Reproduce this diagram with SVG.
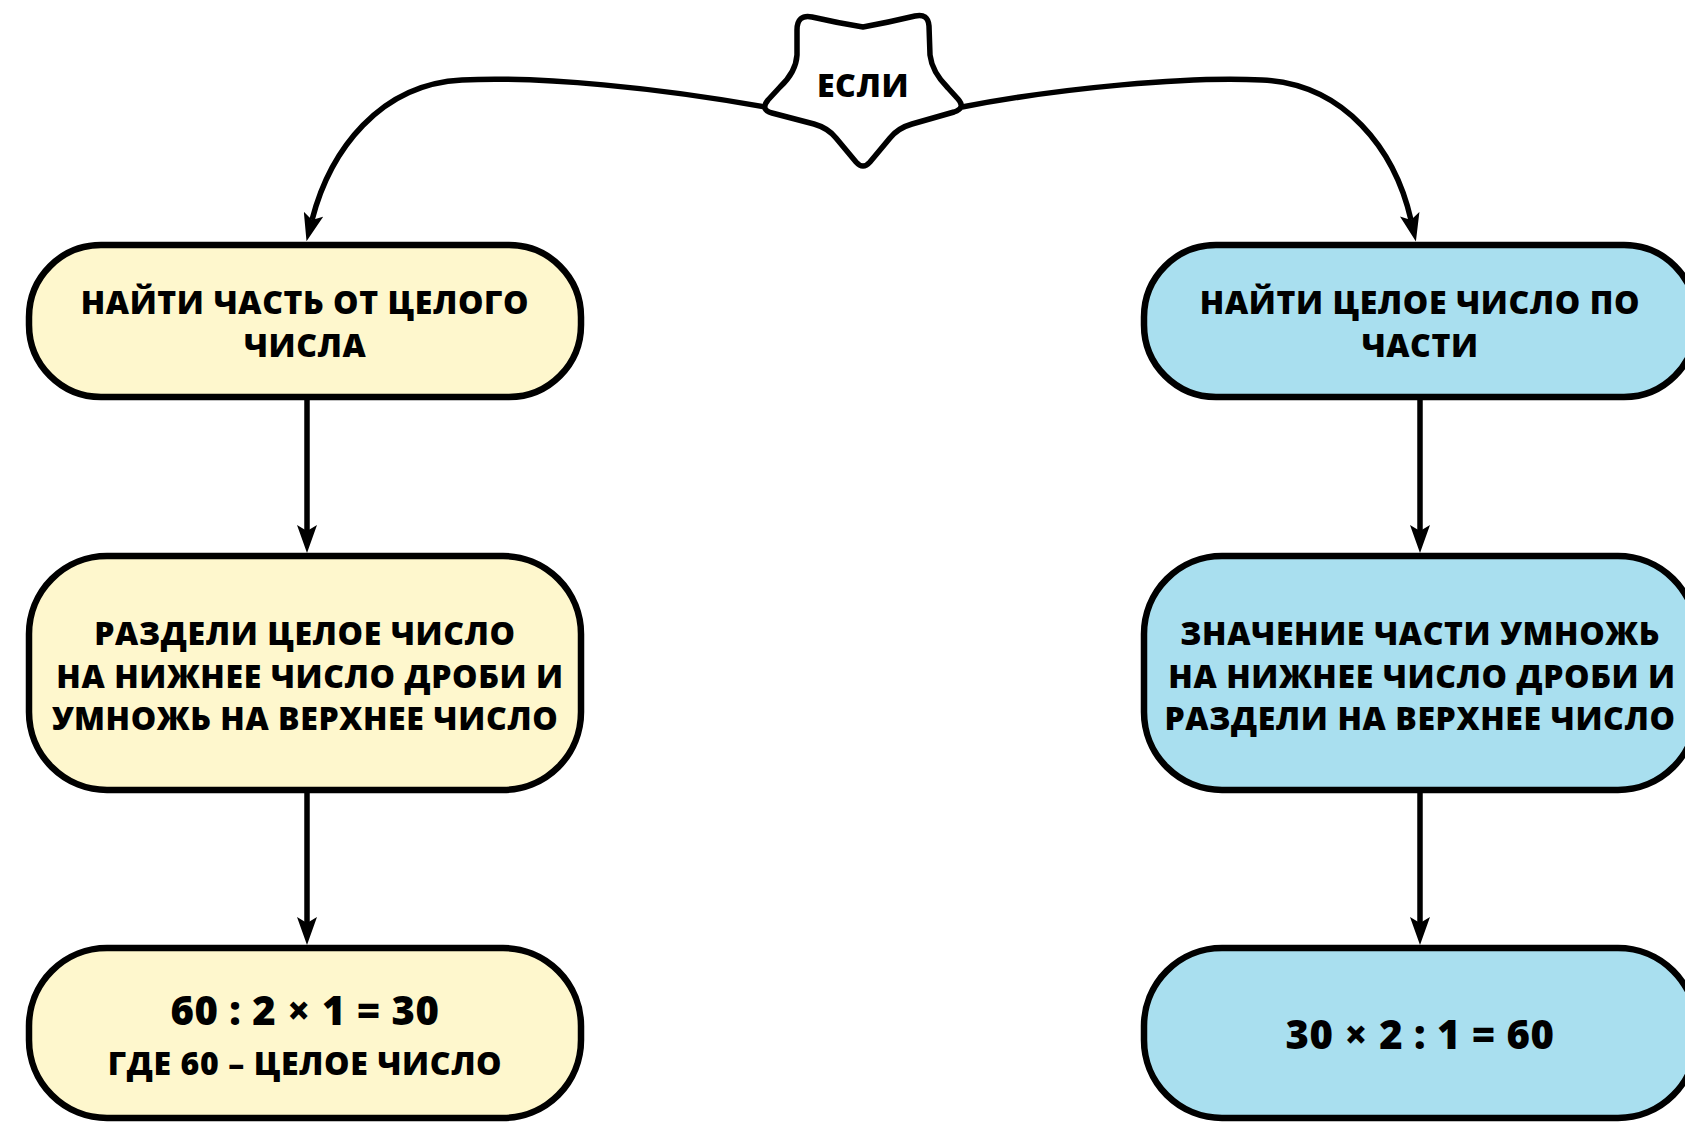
<svg xmlns="http://www.w3.org/2000/svg" width="1685" height="1122" viewBox="0 0 1685 1122">
<style>
.box{stroke:#000;stroke-width:6.5}
.y{fill:#FEF7CD}
.b{fill:#A9DFEF}
.t{font-family:"Open Sans","Noto Sans","DejaVu Sans",sans-serif;font-weight:800;font-size:32px;letter-spacing:0.6px;fill:#000;text-anchor:middle;font-variant-numeric:lining-nums}
.big{font-size:40px;letter-spacing:0.5px}
.conn{fill:none;stroke:#000;stroke-width:5.5}
</style>
<defs>
<marker id="arr" viewBox="0 0 28 20" refX="6" refY="10" markerWidth="28" markerHeight="20" markerUnits="userSpaceOnUse" orient="auto">
<path d="M0,0 L28,10 L0,20 L6,10 Z" fill="#000"/>
</marker>
</defs>
<rect width="1685" height="1122" fill="#fff"/>
<g id="connectors">
<path class="conn" d="M765 107 C660 88 540 76 462 80 C380 84 330 150 312 220" marker-end="url(#arr)"/>
<path class="conn" d="M962 107 C1060 88 1190 76 1262 80 C1345 84 1395 150 1411 220" marker-end="url(#arr)"/>
<path class="conn" d="M307 397 L307 531" marker-end="url(#arr)"/>
<path class="conn" d="M307 790 L307 923" marker-end="url(#arr)"/>
<path class="conn" d="M1420 397 L1420 531" marker-end="url(#arr)"/>
<path class="conn" d="M1420 790 L1420 923" marker-end="url(#arr)"/>
</g>
<g id="star">
<path d="M863 27 Q890 22 915 16 Q928 13 929 26 L930 55 Q932 72 948 88 L958 99 Q966 108 954 112 L912 124 Q898 128 890 138 L870 162 Q863 170 856 162 L836 138 Q828 128 814 124 L772 113 Q760 110 768 100 L780 87 Q796 72 797 55 L797 30 Q797 14 812 17 Q838 23 863 27 Z" fill="#fff" stroke="#000" stroke-width="5.5" stroke-linejoin="round"/>
<text class="t" x="863" y="97" font-size="29">ЕСЛИ</text>
</g>
<g id="left1">
<rect class="box y" x="29" y="245" width="552" height="152" rx="72"/>
<text class="t" x="305" y="314">НАЙТИ ЧАСТЬ ОТ ЦЕЛОГО</text>
<text class="t" x="305" y="357">ЧИСЛА</text>
</g>
<g id="left2">
<rect class="box y" x="29" y="556" width="552" height="234" rx="78"/>
<text class="t" x="305" y="645">РАЗДЕЛИ ЦЕЛОЕ ЧИСЛО</text>
<text class="t" x="310" y="688">НА НИЖНЕЕ ЧИСЛО ДРОБИ И</text>
<text class="t" x="305" y="730">УМНОЖЬ НА ВЕРХНЕЕ ЧИСЛО</text>
</g>
<g id="left3">
<rect class="box y" x="29" y="948" width="552" height="170" rx="78"/>
<text class="t big" x="305" y="1025">60 : 2 × 1 = 30</text>
<text class="t" x="305" y="1075" letter-spacing="1px">ГДЕ 60 – ЦЕЛОЕ ЧИСЛО</text>
</g>
<g id="right1">
<rect class="box b" x="1144" y="245" width="552" height="152" rx="72"/>
<text class="t" x="1420" y="314">НАЙТИ ЦЕЛОЕ ЧИСЛО ПО</text>
<text class="t" x="1420" y="357">ЧАСТИ</text>
</g>
<g id="right2">
<rect class="box b" x="1144" y="556" width="552" height="234" rx="78"/>
<text class="t" x="1420" y="645">ЗНАЧЕНИЕ ЧАСТИ УМНОЖЬ</text>
<text class="t" x="1422" y="688">НА НИЖНЕЕ ЧИСЛО ДРОБИ И</text>
<text class="t" x="1420" y="730">РАЗДЕЛИ НА ВЕРХНЕЕ ЧИСЛО</text>
</g>
<g id="right3">
<rect class="box b" x="1144" y="948" width="552" height="170" rx="78"/>
<text class="t big" x="1420" y="1049">30 × 2 : 1 = 60</text>
</g>
</svg>
